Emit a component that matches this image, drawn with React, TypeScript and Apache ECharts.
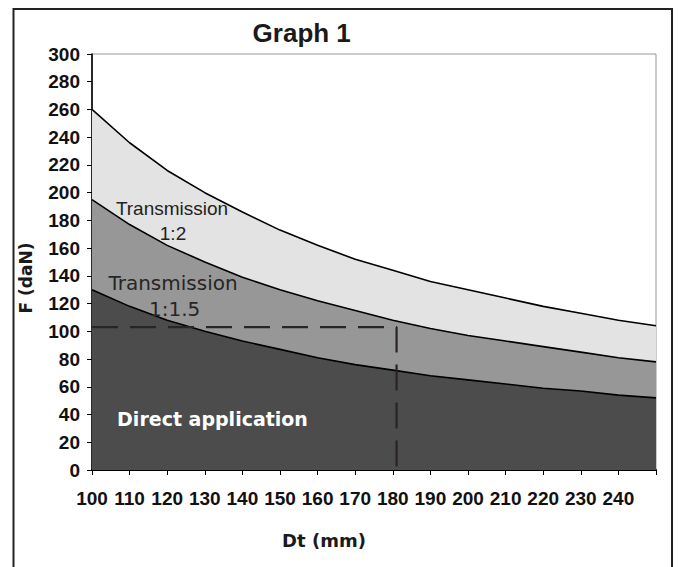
import React, { useEffect, useRef } from "react";
import * as echarts from "echarts";

// Diameter Dt (mm)
const dtValues = [100, 110, 120, 130, 140, 150, 160, 170, 180, 190, 200, 210, 220, 230, 240, 250];
// Force F (daN)
const transmission12 = [260, 236, 216, 200, 186, 173, 162, 152, 144, 136, 130, 124, 118, 113, 108, 104];
const transmission115 = [195, 177, 162, 150, 139, 130, 122, 115, 108, 102, 97, 93, 89, 85, 81, 78];
const directApplication = [130, 118, 108, 100, 93, 87, 81, 76, 72, 68, 65, 62, 59, 57, 54, 52];
// Reading example (dashed guide)
const guideX = [100, 181, 181];
const guideY = [103, 103, 0];

const xLabels = ["100", "110", "120", "130", "140", "150", "160", "170", "180", "190", "200", "210", "220", "230", "240"];

const pairs = (xs: number[], ys: number[]) => xs.map((x, i) => [x, ys[i]]);

export default function App() {
  const ref = useRef<HTMLDivElement>(null);
  useEffect(() => {
    if (!ref.current) return;
    const chart = echarts.init(ref.current, undefined, { renderer: "svg" });
    const axisFont = { fontFamily: "Liberation Sans", fontWeight: "bold" as const, fontSize: 19, color: "#111" };
    const areaSeries = (name: string, data: number[], fill: string) => ({
      name,
      type: "line",
      data: pairs(dtValues, data),
      symbol: "none",
      lineStyle: { color: "#000", width: 1.6 },
      areaStyle: { color: fill, opacity: 1 },
    });
    chart.setOption({
      animation: false,
      backgroundColor: "#fff",
      grid: { left: 92, right: 22, top: 54, bottom: 97, show: true, borderColor: "#999", borderWidth: 1, backgroundColor: "transparent" },
      xAxis: {
        type: "value",
        min: 100,
        max: 250,
        interval: 10,
        axisLine: { lineStyle: { color: "#000", width: 2 } },
        axisTick: { length: 5, lineStyle: { color: "#000", width: 1 } },
        splitLine: { show: false },
        axisLabel: {
          ...axisFont,
          margin: 19,
          formatter: (v: number) => {
            const s = String(v);
            return xLabels.includes(s) ? s : "";
          },
        },
      },
      yAxis: {
        type: "value",
        min: 0,
        max: 300,
        interval: 20,
        axisLine: { show: true, lineStyle: { color: "#000", width: 1.6 } },
        axisTick: { show: true, length: 5, lineStyle: { color: "#000", width: 1 } },
        splitLine: { show: false },
        axisLabel: { ...axisFont, margin: 12 },
      },
      series: [
        areaSeries("Transmission 1:2", transmission12, "#e3e3e3"),
        areaSeries("Transmission 1:1.5", transmission115, "#979797"),
        areaSeries("Direct application", directApplication, "#4c4c4c"),
        {
          name: "guide",
          type: "line",
          data: pairs(guideX, guideY),
          symbol: "none",
          lineStyle: { color: "#2a2426", width: 2.2, type: [26, 12] },
          z: 5,
        },
      ],
      graphic: [
        {
          type: "rect",
          shape: { x: 13.5, y: 9, width: 658.5, height: 600 },
          style: { fill: "none", stroke: "#222", lineWidth: 2 },
          z: 100,
        },
        {
          type: "text",
          x: 301.7,
          y: 33,
          style: { text: "Graph 1", fontFamily: "Liberation Sans", fontWeight: "bold", fontSize: 26, fill: "#1a1a1a", align: "center", verticalAlign: "middle" },
          z: 100,
        },
        {
          type: "text",
          x: 172,
          y: 208,
          style: { text: "Transmission", fontFamily: "Liberation Sans", fontSize: 19, fill: "#222", align: "center", verticalAlign: "middle" },
          z: 100,
        },
        {
          type: "text",
          x: 173,
          y: 233,
          style: { text: "1:2", fontFamily: "Liberation Sans", fontSize: 19, fill: "#222", align: "center", verticalAlign: "middle" },
          z: 100,
        },
        {
          type: "text",
          x: 173,
          y: 283,
          style: { text: "Transmission", fontFamily: "DejaVu Sans", fontSize: 20, fill: "#262626", align: "center", verticalAlign: "middle" },
          z: 100,
        },
        {
          type: "text",
          x: 174.7,
          y: 309,
          style: { text: "1:1.5", fontFamily: "DejaVu Sans", fontSize: 20, fill: "#262626", align: "center", verticalAlign: "middle" },
          z: 100,
        },
        {
          type: "text",
          x: 212.5,
          y: 419,
          style: { text: "Direct application", fontFamily: "DejaVu Sans", fontWeight: "bold", fontSize: 19, fill: "#fff", align: "center", verticalAlign: "middle" },
          z: 100,
        },
        {
          type: "text",
          x: 324,
          y: 540,
          style: { text: "Dt (mm)", fontFamily: "DejaVu Sans", fontWeight: "bold", fontSize: 18, fill: "#1a1a1a", align: "center", verticalAlign: "middle" },
          z: 100,
        },
        {
          type: "text",
          x: 26,
          y: 278,
          rotation: Math.PI / 2,
          style: { text: "F (daN)", fontFamily: "DejaVu Sans", fontWeight: "bold", fontSize: 17, fill: "#1a1a1a", align: "center", verticalAlign: "middle" },
          z: 100,
        },
      ],
    });
    return () => chart.dispose();
  }, []);
  return <div ref={ref} style={{ position: "absolute", left: 0, top: 0, width: 678, height: 567 }} />;
}
